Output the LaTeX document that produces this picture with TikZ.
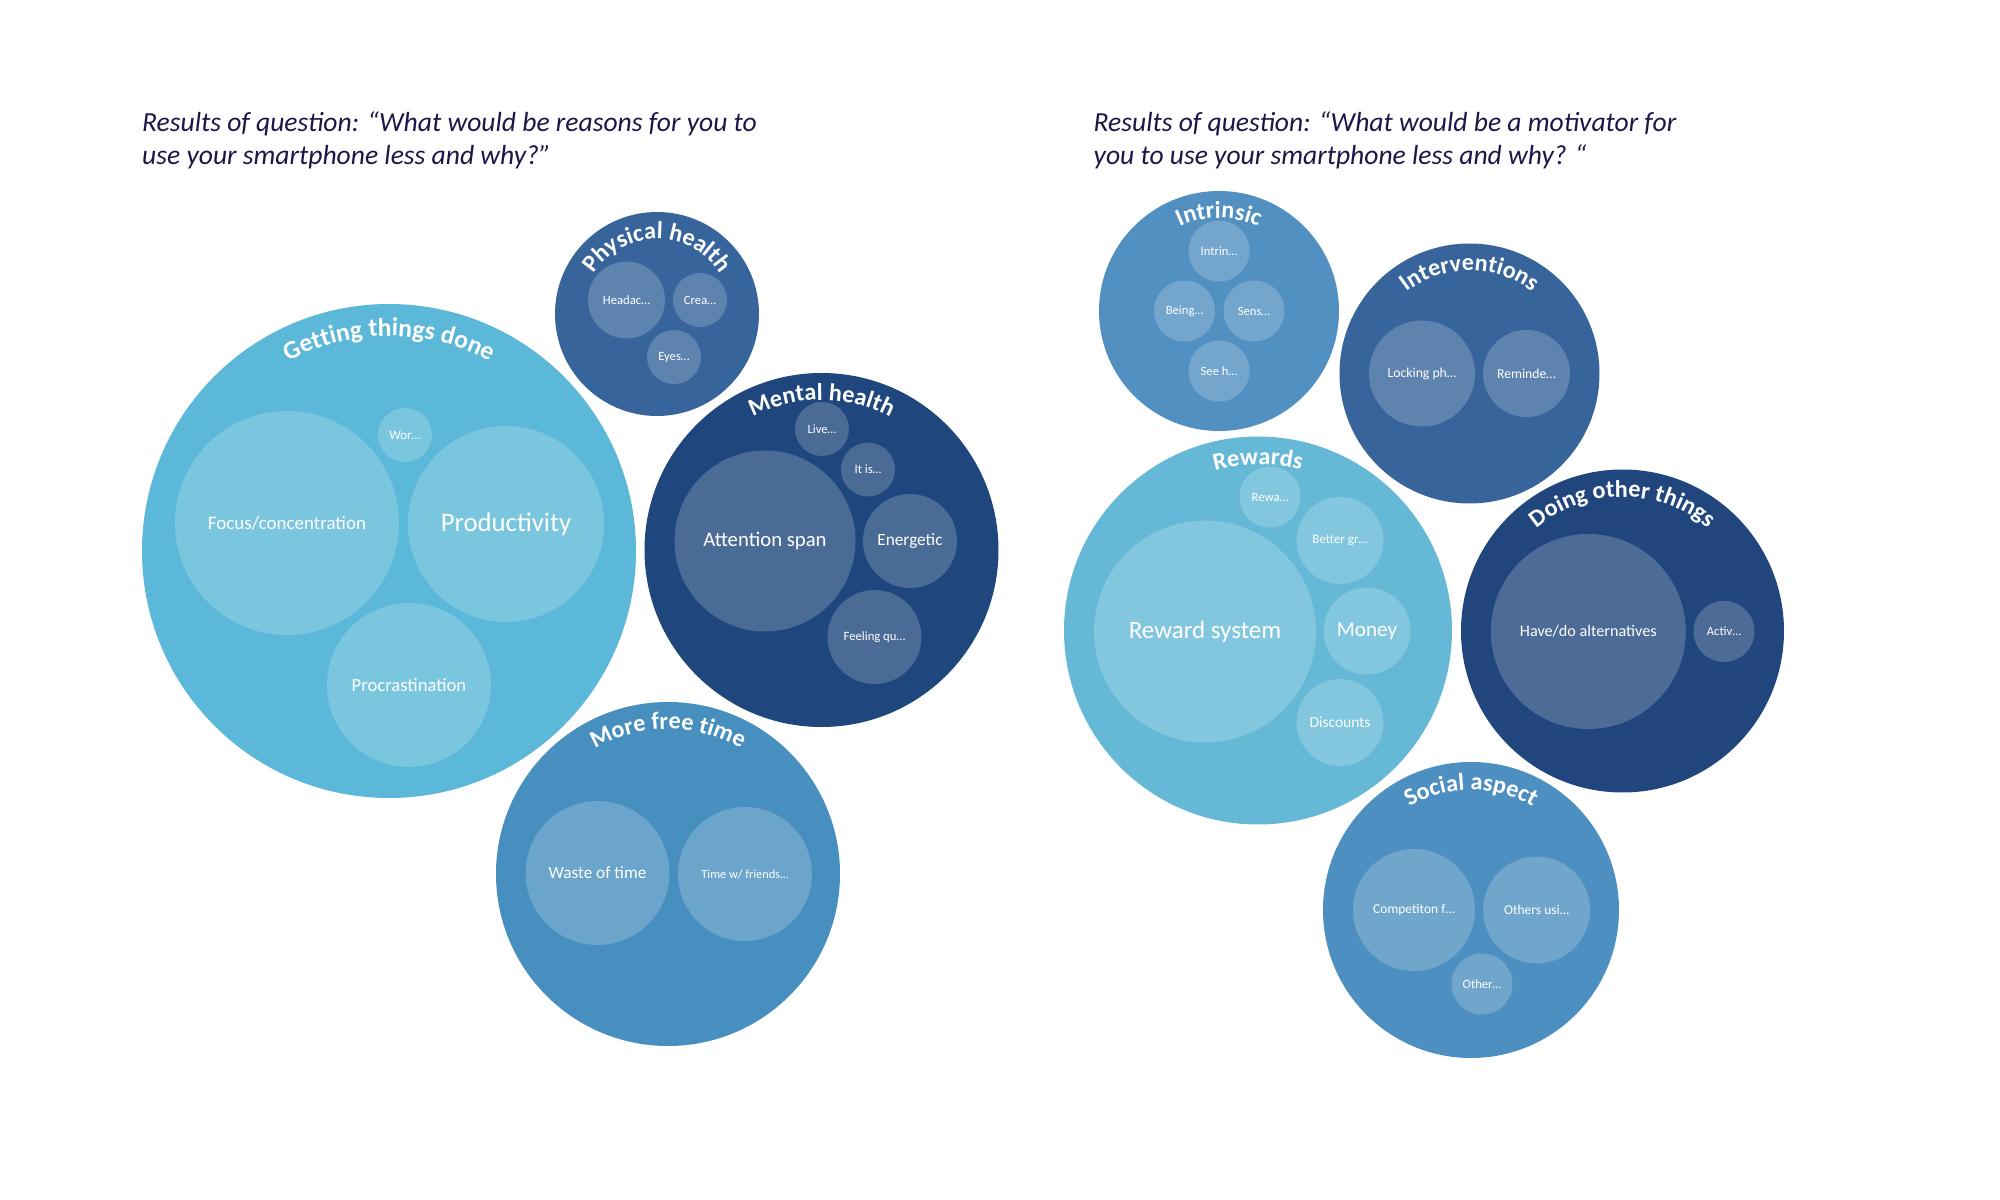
\documentclass[tikz,border=0pt]{standalone}
\usepackage{fontspec}
\setmainfont{Carlito}
\usetikzlibrary{decorations.text}

\definecolor{gtdblue}{HTML}{5BB8D8}
\definecolor{physblue}{HTML}{37649B}
\definecolor{mentblue}{HTML}{1F467D}
\definecolor{freeblue}{HTML}{468FBF}
\definecolor{intrblue}{HTML}{5290C1}
\definecolor{rewblue}{HTML}{65B9D7}
\definecolor{doingblue}{HTML}{21467E}
\definecolor{socblue}{HTML}{4D8FC0}
\definecolor{titleink}{HTML}{1B1748}
\tikzstyle{bub} = [circle, inner sep=0pt, text=white, align=center]

\begin{document}
\begin{tikzpicture}[x=0.1mm, y=-0.1mm,
		grp/.style={bub, minimum size=#1},
		sub/.style={bub, fill=white, fill opacity=0.2, text opacity=1, minimum size=#1},
		lbl/.style={font=\fontsize{#1}{#1}\selectfont},
		quest/.style={anchor=base west, inner sep=0pt, text=titleink, font=\itshape\fontsize{7.85}{9}\selectfont},
		head/.style 2 args={decorate, decoration={text along path, text align=center, text color=white, text={|\bfseries\fontsize{#1}{#1}\selectfont|#2}}}]
		\useasboundingbox (0,0) rectangle (2000,1200);
		\node[quest] (tl1) at (141.5,132) {Results of question: “What would be reasons for you to};
		\node[quest] (tl2) at (141.5,165) {use your smartphone less and why?”};
		\node[quest] (tr1) at (1093,132) {Results of question: “What would be a motivator for};
		\node[quest] (tr2) at (1093,165) {you to use your smartphone less and why? “};

		\node[grp=49.4mm, fill=gtdblue] (gtd) at (389,551) {};
		\node[sub=22.4mm, lbl=5.4] (focus) at (287,523) {Focus/concentration};
		\node[sub=19.6mm, lbl=7.6] (prod) at (506,524) {Productivity};
		\node[sub=5.4mm, lbl=3.7] (wor) at (405,435) {Wor…};
		\node[sub=16.4mm, lbl=5.3] (procr) at (409,685) {Procrastination};

		\node[grp=20.4mm, fill=physblue] (phys) at (657,314) {};
		\node[sub=7.7mm, lbl=3.6] (headac) at (626.5,300) {Headac…};
		\node[sub=5.4mm, lbl=3.6] (crea) at (700,300) {Crea…};
		\node[sub=5.4mm, lbl=3.6] (eyes) at (674,357) {Eyes…};

		\node[grp=35.4mm, fill=mentblue] (ment) at (821.5,550) {};
		\node[sub=5.4mm, lbl=3.6] (live) at (822,429) {Live…};
		\node[sub=5.4mm, lbl=3.6] (itis) at (868,469.5) {It is…};
		\node[sub=18.1mm, lbl=5.9] (att) at (765,541) {Attention span};
		\node[sub=9.4mm, lbl=4.9] (ener) at (910,541) {Energetic};
		\node[sub=9.4mm, lbl=3.6] (feel) at (874.5,637) {Feeling qu…};

		\node[grp=34.4mm, fill=freeblue] (free) at (668,874) {};
		\node[sub=14.4mm, lbl=4.9] (waste) at (597.5,873) {Waste of time};
		\node[sub=13.4mm, lbl=3.5] (friends) at (745,874) {Time w/ friends…};

		\node[grp=24mm, fill=intrblue] (intr) at (1219,311) {};
		\node[sub=6.1mm, lbl=3.6] (intrin) at (1219,251) {Intrin…};
		\node[sub=6.1mm, lbl=3.6] (being) at (1184.5,311) {Being…};
		\node[sub=6.1mm, lbl=3.6] (sens) at (1254,311) {Sens…};
		\node[sub=6.1mm, lbl=3.6] (seeh) at (1219,371) {See h…};

		\node[grp=26mm, fill=physblue] (interv) at (1469.5,373.5) {};
		\node[sub=10.6mm, lbl=3.9] (lock) at (1422,373.5) {Locking ph…};
		\node[sub=8.7mm, lbl=3.9] (remind) at (1526.5,373.5) {Reminde…};

		\node[grp=38.8mm, fill=rewblue] (rew) at (1258,630.5) {};
		\node[sub=6.1mm, lbl=3.6] (rewa) at (1270,497) {Rewa…};
		\node[sub=8.7mm, lbl=3.7] (better) at (1340,540.5) {Better gr…};
		\node[sub=22.2mm, lbl=7.1] (rsys) at (1205,631.5) {Reward system};
		\node[sub=8.7mm, lbl=6] (money) at (1367,631) {Money};
		\node[sub=8.7mm, lbl=4.4] (disc) at (1340,722.5) {Discounts};

		\node[grp=32.3mm, fill=doingblue] (doing) at (1622.5,631) {};
		\node[sub=19.5mm, lbl=4.6] (alt) at (1588.3,631.5) {Have/do alternatives};
		\node[sub=6.1mm, lbl=3.6] (activ) at (1724,631.4) {Activ…};

		\node[grp=29.6mm, fill=socblue] (soc) at (1471,910) {};
		\node[sub=12.2mm, lbl=3.85] (comp) at (1414,910) {Competiton f…};
		\node[sub=10.7mm, lbl=3.85] (othus) at (1536.6,910) {Others usi…};
		\node[sub=6.1mm, lbl=3.6] (other) at (1482,984) {Other…};

		\path[head={7.3}{Getting things done}] ([shift={(178:21.5mm)}]gtd.center) arc[start angle=178, end angle=2, radius=21.5mm];
		\path[head={6.9}{Physical health}] ([shift={(178:7.5mm)}]phys.center) arc[start angle=178, end angle=2, radius=7.5mm];
		\path[head={6.9}{Mental health}] ([shift={(178:15mm)}]ment.center) arc[start angle=178, end angle=2, radius=15mm];
		\path[head={6.9}{More free time}] ([shift={(178:14.5mm)}]free.center) arc[start angle=178, end angle=2, radius=14.5mm];
		\path[head={6.9}{Intrinsic}] ([shift={(178:9.3mm)}]intr.center) arc[start angle=178, end angle=2, radius=9.3mm];
		\path[head={6.9}{Interventions}] ([shift={(178:10.3mm)}]interv.center) arc[start angle=178, end angle=2, radius=10.3mm];
		\path[head={6.9}{Rewards}] ([shift={(178:16.6mm)}]rew.center) arc[start angle=178, end angle=2, radius=16.6mm];
		\path[head={6.9}{Doing other things}] ([shift={(178:13.4mm)}]doing.center) arc[start angle=178, end angle=2, radius=13.4mm];
		\path[head={6.9}{Social aspect}] ([shift={(178:12mm)}]soc.center) arc[start angle=178, end angle=2, radius=12mm];
\end{tikzpicture}
\end{document}
